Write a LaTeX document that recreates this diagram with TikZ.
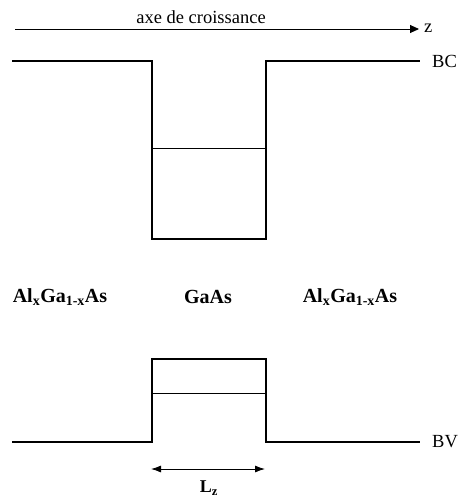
\documentclass[tikz,border=0pt]{standalone}
\usepackage{fontspec}
\setmainfont{Liberation Serif}
\usetikzlibrary{arrows.meta}
\begin{document}
\begin{tikzpicture}[x=1pt,y=-1pt,
  band/.style={line width=2.8pt,line join=miter},
  level/.style={line width=0.9pt},
  lbl/.style={font=\fontsize{18.5}{20}\selectfont,inner sep=0pt},
  mat/.style={font=\fontsize{20}{22}\selectfont\bfseries,inner sep=0pt}]
\useasboundingbox (0,0) rectangle (459,499);
% growth axis
\coordinate (a0) at (15,29);
\coordinate (a1) at (419,29);
\draw[line width=0.9pt,-{Triangle[length=9pt,width=8pt]}] (a0) -- (a1);
\node[lbl,anchor=west] (z) at (424,28) {z};
\node[lbl] (axe) at (201,17) {axe de croissance};
% conduction band
\coordinate (c1) at (12,61);
\coordinate (c2) at (152,61);
\coordinate (c3) at (152,239);
\coordinate (c4) at (266,239);
\coordinate (c5) at (266,61);
\coordinate (c6) at (420,61);
\draw[band] (c1) -- (c2) -- (c3) -- (c4) -- (c5) -- (c6);
\node[lbl,anchor=west] (BC) at (432,61) {BC};
\coordinate (e1a) at (152,148);
\coordinate (e1b) at (266,148);
\draw[level] (e1a) -- (e1b);
% materials
\node[mat] (m1) at (60,297) {Al\textsubscript{x}Ga\textsubscript{1-x}As};
\node[mat] (m2) at (208,297) {GaAs};
\node[mat] (m3) at (350,297) {Al\textsubscript{x}Ga\textsubscript{1-x}As};
% valence band
\coordinate (v1) at (12,442);
\coordinate (v2) at (152,442);
\coordinate (v3) at (152,359);
\coordinate (v4) at (266,359);
\coordinate (v5) at (266,442);
\coordinate (v6) at (420,442);
\draw[band] (v1) -- (v2) -- (v3) -- (v4) -- (v5) -- (v6);
\node[lbl,anchor=west] (BV) at (432,442) {BV};
\coordinate (h1a) at (152,393);
\coordinate (h1b) at (266,393);
\draw[level] (h1a) -- (h1b);
% well width
\coordinate (w1) at (151,469);
\coordinate (w2) at (265,469);
\draw[line width=0.9pt,{Latex[length=10pt,width=7pt]}-{Latex[length=10pt,width=7pt]}] (w1) -- (w2);
\node[mat,font=\fontsize{18}{20}\selectfont\bfseries] (Lz) at (209,488) {L\textsubscript{z}};
\end{tikzpicture}
\end{document}
